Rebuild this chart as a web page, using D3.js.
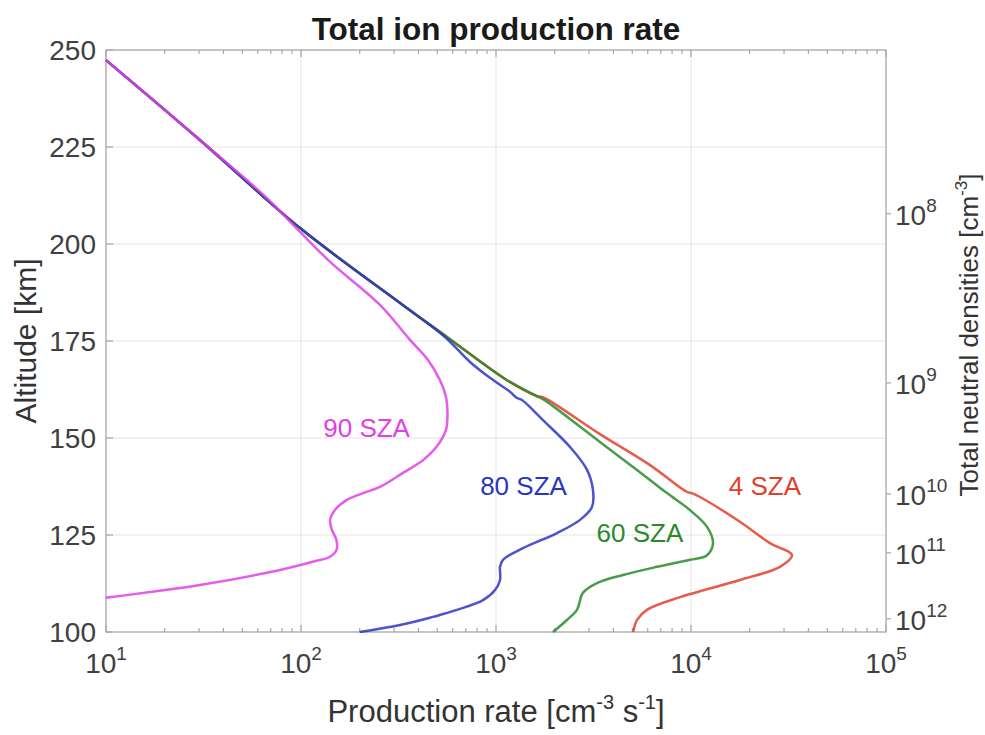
<!DOCTYPE html>
<html>
<head>
<meta charset="utf-8">
<style>
  body { margin: 0; background: #ffffff; }
  svg { font-family: "Liberation Sans", Arial, sans-serif; }
  .grid line { stroke: #e4e4e4; stroke-width: 1; }
  .frame { fill: none; stroke: #a6a6a6; stroke-width: 1.3; }
  .tick line { stroke: #a6a6a6; stroke-width: 1.2; }
  .tlabel { fill: #404040; font-size: 28px; }
  .curve { fill: none; stroke-width: 2.5; stroke-linejoin: round; stroke-opacity: 0.85; }
  .sza { font-size: 26px; text-anchor: middle; }
</style>
</head>
<body>
<svg id="chart" width="985" height="735"></svg>
<script src="https://cdn.jsdelivr.net/npm/d3@7"></script>
<script>
// production rate [cm^-3 s^-1], altitude [km]
const sza90 = [[10,247.4],[30.3,226.8],[66,212.1],[98.9,203.1],[141,195.4],[254,184.3],[362,175.3],
  [448,170.1],[516,164.9],[554,160.6],[564,156.4],[554,152.1],[497,147.8],[423,144.3],[333,141.0],
  [254,137.4],[208,135.8],[171,134.0],[149,131.4],[141,128.9],[144,126.3],[152,123.7],[152,121.1],
  [141,119.4],[115,118.1],[78,116.0],[30.3,112.1],[16.8,110.3],[10,108.8]];
const sza80 = [[10,247.4],[30.3,226.8],[98.9,204.1],[322,184.8],[540,176.3],[736,169.6],[931,165.5],
  [1180,161.9],[1282,160.3],[1359,159.8],[1741,154.6],[2395,147.7],[2930,141.8],[3143,136.6],[3105,132.2],
  [2698,128.9],[2056,125.5],[1375,121.6],[1086,118.6],[1049,116.8],[1049,113.4],[989,110.8],[858,108.2],
  [631,105.7],[516,104.4],[475,103.9],[322,101.8],[200,100]];
const sza60 = [[10,247.4],[30.3,226.8],[98.9,204.1],[322,184.8],[558,176.1],[1138,164.9],[1683,160.4],
  [1783,159.7],[3412,149.0],[5470,141.2],[7530,135.8],[9886,131.4],[12080,127.1],[12970,122.9],
  [12080,119.8],[9886,118.6],[6700,116.8],[4480,114.7],[3295,112.6],[2793,110.1],[2601,105.7],
  [2311,103.1],[1960,100]];
const sza4 = [[10,247.4],[30.3,226.8],[98.9,204.1],[322,184.8],[558,176.1],[1138,164.9],[1600,160.9],
  [1740,160.5],[3412,151.0],[6166,143.0],[9530,136.1],[10100,135.8],[11120,134.8],[17830,128.4],
  [25400,122.9],[32960,119.8],[28580,116.8],[17830,113.4],[8790,109.0],[5940,105.7],[5290,103.1],
  [5050,100]];

const seriesNames = ["4 SZA", "60 SZA", "80 SZA", "90 SZA"];
const seriesData = [sza4, sza60, sza80, sza90];
const seriesColors = ["#e0402c", "#2a8a2a", "#2b36c0", "#e040e6"];
// label baseline points (rate, altitude)
const labelPos = [[23930, 135.3], [5470, 123.2], [1384, 135.3], [217, 150.3]];

const xDecades = [1, 2, 3, 4, 5];
const yTicks = [100, 125, 150, 175, 200, 225, 250];
// right axis: total neutral density exponents and the altitude where each sits
const densityExp = [8, 9, 10, 11, 12];
const densityAlt = [207.8, 164.2, 135.6, 120.4, 103.4];

const margin = {top: 50, right: 99, bottom: 103, left: 106};
const W = 985, H = 735;
const w = W - margin.left - margin.right, h = H - margin.top - margin.bottom;

const svg = d3.select("#chart");
const g = svg.append("g").attr("transform", `translate(${margin.left},${margin.top})`);

const x = d3.scaleLog().domain([10, 1e5]).range([0, w]);
const y = d3.scaleLinear().domain([100, 250]).range([h, 0]);

// grid
const grid = g.append("g").attr("class", "grid");
grid.selectAll(".vx").data(xDecades.slice(1, -1)).enter().append("line")
  .attr("x1", d => x(Math.pow(10, d))).attr("x2", d => x(Math.pow(10, d)))
  .attr("y1", 0).attr("y2", h);
grid.selectAll(".hy").data(yTicks.slice(1, -1)).enter().append("line")
  .attr("x1", 0).attr("x2", w).attr("y1", d => y(d)).attr("y2", d => y(d));

// minor + major ticks on bottom and top (pointing inward)
const minor = [];
for (let e = 1; e < 5; e++) for (let k = 2; k <= 9; k++) minor.push(k * Math.pow(10, e));
const ticks = g.append("g").attr("class", "tick");
[[h, -1], [0, 1]].forEach(([yy, dir]) => {
  ticks.selectAll(null).data(minor).enter().append("line")
    .attr("x1", d => x(d)).attr("x2", d => x(d))
    .attr("y1", yy).attr("y2", yy + dir * 4);
  ticks.selectAll(null).data(xDecades).enter().append("line")
    .attr("x1", d => x(Math.pow(10, d))).attr("x2", d => x(Math.pow(10, d)))
    .attr("y1", yy).attr("y2", yy + dir * 7);
});
ticks.selectAll(null).data(yTicks).enter().append("line")
  .attr("x1", 0).attr("x2", 7).attr("y1", d => y(d)).attr("y2", d => y(d));
ticks.selectAll(null).data(densityAlt).enter().append("line")
  .attr("x1", w).attr("x2", w + 5).attr("y1", d => y(d)).attr("y2", d => y(d));

g.append("rect").attr("class", "frame").attr("width", w).attr("height", h);

// curves
const line = d3.line().x(d => x(d[0])).y(d => y(d[1])).curve(d3.curveCatmullRom.alpha(0.5));
g.selectAll(".curve").data(seriesData).enter().append("path")
  .attr("class", "curve")
  .attr("stroke", (d, i) => seriesColors[i])
  .attr("d", line);

g.selectAll(".sza").data(seriesNames).enter().append("text")
  .attr("class", "sza")
  .attr("x", (d, i) => x(labelPos[i][0]))
  .attr("y", (d, i) => y(labelPos[i][1]))
  .attr("fill", (d, i) => seriesColors[i])
  .text(d => d);

// y tick labels
g.selectAll(".ylab").data(yTicks).enter().append("text")
  .attr("class", "tlabel")
  .attr("x", -10).attr("y", d => y(d) + 10)
  .attr("text-anchor", "end")
  .text(d => d);

// x tick labels 10^n
const xl = g.selectAll(".xlab").data(xDecades).enter().append("text")
  .attr("class", "tlabel")
  .attr("x", d => x(Math.pow(10, d)))
  .attr("y", h + 41)
  .attr("text-anchor", "middle");
xl.append("tspan").text("10");
xl.append("tspan").attr("dy", -13).attr("font-size", 19).text(d => d);

// right tick labels 10^n
const rl = g.selectAll(".rlab").data(densityExp).enter().append("text")
  .attr("class", "tlabel")
  .attr("x", w + 9)
  .attr("y", (d, i) => y(densityAlt[i]) + 11);
rl.append("tspan").text("10");
rl.append("tspan").attr("dy", -13).attr("font-size", 19).text(d => d);

// titles
svg.append("text")
  .attr("x", margin.left + w / 2).attr("y", 40)
  .attr("text-anchor", "middle")
  .attr("font-size", 31.5).attr("font-weight", "bold").attr("fill", "#1a1a1a")
  .text("Total ion production rate");

const xt = svg.append("text")
  .attr("x", margin.left + w / 2).attr("y", 722)
  .attr("text-anchor", "middle")
  .attr("font-size", 31).attr("fill", "#333");
xt.append("tspan").text("Production rate [cm");
xt.append("tspan").attr("dy", -13).attr("font-size", 20).text("-3");
xt.append("tspan").attr("dy", 13).text(" s");
xt.append("tspan").attr("dy", -13).attr("font-size", 20).text("-1");
xt.append("tspan").attr("dy", 13).text("]");

svg.append("text")
  .attr("transform", `translate(36,${margin.top + h / 2}) rotate(-90)`)
  .attr("text-anchor", "middle")
  .attr("font-size", 30).attr("fill", "#333")
  .text("Altitude [km]");

const rt = svg.append("text")
  .attr("transform", `translate(978,335) rotate(-90)`)
  .attr("text-anchor", "middle")
  .attr("font-size", 26).attr("fill", "#333");
rt.append("tspan").text("Total neutral densities [cm");
rt.append("tspan").attr("dy", -11).attr("font-size", 17).text("-3");
rt.append("tspan").attr("dy", 11).text("]");
</script>
</body>
</html>
